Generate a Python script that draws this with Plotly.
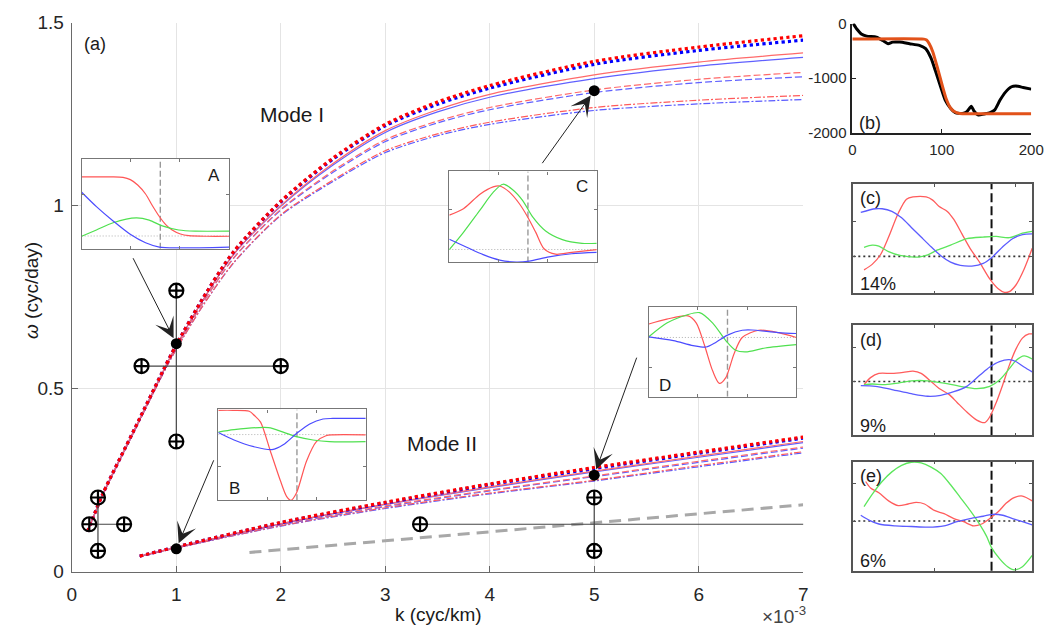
import plotly.graph_objects as go

W, H = 1057, 637
FONT = "Liberation Sans, Arial, Helvetica, sans-serif"

# ---------------- (a) dispersion curves ----------------
k_mode1 = [0.15, 0.3, 0.6, 0.9, 1.0, 1.25, 1.55, 2.0, 2.5, 3.0, 3.5, 4.0, 5.0, 6.0, 7.0]
w1_red_dotted = [0.11, 0.215, 0.390, 0.565, 0.620, 0.745, 0.875, 1.012, 1.130, 1.222, 1.283, 1.328, 1.394, 1.433, 1.464]
w1_blue_dotted = [0.11, 0.215, 0.390, 0.565, 0.620, 0.745, 0.874, 1.010, 1.127, 1.218, 1.277, 1.321, 1.386, 1.424, 1.452]
w1_red_solid = [0.11, 0.214, 0.389, 0.563, 0.617, 0.740, 0.868, 1.000, 1.115, 1.205, 1.262, 1.304, 1.357, 1.392, 1.417]
w1_blue_solid = [0.11, 0.214, 0.389, 0.563, 0.617, 0.740, 0.867, 0.998, 1.111, 1.200, 1.256, 1.296, 1.347, 1.381, 1.405]
w1_red_dashed = [0.11, 0.213, 0.387, 0.560, 0.613, 0.733, 0.858, 0.990, 1.095, 1.180, 1.231, 1.268, 1.316, 1.345, 1.364]
w1_blue_dashed = [0.11, 0.213, 0.387, 0.560, 0.613, 0.733, 0.857, 0.988, 1.091, 1.175, 1.226, 1.262, 1.309, 1.336, 1.352]
w1_red_dashdot = [0.11, 0.212, 0.385, 0.556, 0.608, 0.725, 0.845, 0.975, 1.070, 1.150, 1.196, 1.228, 1.268, 1.288, 1.301]
w1_blue_dashdot = [0.11, 0.212, 0.385, 0.556, 0.608, 0.725, 0.844, 0.973, 1.066, 1.145, 1.191, 1.222, 1.260, 1.278, 1.290]

k_mode2 = [0.65, 1.0, 2.0, 3.0, 4.0, 5.0, 6.0, 7.0]
w2_red_dotted = [0.043, 0.068, 0.135, 0.190, 0.240, 0.285, 0.327, 0.368]
w2_blue_dotted = [0.043, 0.068, 0.134, 0.188, 0.238, 0.282, 0.324, 0.365]
w2_red_solid = [0.043, 0.067, 0.132, 0.185, 0.232, 0.275, 0.316, 0.356]
w2_blue_solid = [0.043, 0.067, 0.131, 0.184, 0.230, 0.273, 0.313, 0.353]
w2_red_dashed = [0.042, 0.066, 0.129, 0.180, 0.223, 0.262, 0.302, 0.341]
w2_blue_dashed = [0.042, 0.066, 0.128, 0.178, 0.221, 0.260, 0.299, 0.338]
w2_red_dashdot = [0.042, 0.065, 0.126, 0.175, 0.215, 0.250, 0.290, 0.328]
w2_blue_dashdot = [0.042, 0.065, 0.125, 0.173, 0.213, 0.248, 0.287, 0.325]

k_ref = [1.7, 7.0]
w_ref = [0.053, 0.183]

cross_k = [1.0, 0.25, 5.0]
cross_w = [0.562, 0.13, 0.13]
cross_k_lo = [0.667, 0.167, 3.333]
cross_k_hi = [2.0, 0.5, 10.0]
cross_w_lo = [0.356, 0.057, 0.057]
cross_w_hi = [0.768, 0.203, 0.203]

dot_k = [1.0, 5.0, 1.0, 5.0]
dot_w = [0.623, 1.314, 0.063, 0.264]
dot_inset = ["A", "C", "B", "D"]

# ---------------- (b) bathymetry ----------------
dist_obs = [1, 5, 10, 16, 27, 34, 40, 45, 53, 64, 75, 82, 88, 93, 99, 104, 110, 115, 123, 128,
            133, 136, 141, 147, 154, 159, 165, 171, 178, 183, 191, 200]
depth_obs = [0, -100, -190, -230, -250, -310, -370, -340, -340, -370, -400, -460, -635, -870, -1170,
             -1405, -1555, -1630, -1645, -1615, -1515, -1600, -1675, -1655, -1630, -1585, -1405,
             -1260, -1157, -1145, -1170, -1200]
dist_fit = [0, 80, 83, 86, 90, 95, 100, 105, 110, 115, 120, 200]
depth_fit = [-285, -285, -300, -370, -520, -800, -1100, -1380, -1550, -1620, -1645, -1650]

# ---------------- (c)-(e) observed modal structures ----------------
c_red_x = [6.6, 11.6, 16.7, 21.7, 27.7, 32.7, 36.7, 44.8, 48.8, 52.8, 57.8, 61.8, 66.8, 71.8, 77.9,
           83.9, 88.9, 92.9, 95.9, 99.9, 105, 110]
c_red_y = [0.215, 0.265, 0.353, 0.515, 0.735, 0.862, 0.882, 0.882, 0.853, 0.794, 0.75, 0.676, 0.544,
           0.412, 0.279, 0.132, 0.044, 0.009, 0.015, 0.074, 0.221, 0.412]
c_green_x = [6.6, 11.6, 15.7, 21.7, 28.7, 39.7, 45.8, 51.8, 59.8, 69.8, 79.9, 87.9, 95.9, 104, 110]
c_green_y = [0.421, 0.441, 0.432, 0.382, 0.347, 0.332, 0.353, 0.397, 0.441, 0.5, 0.515, 0.521, 0.509,
             0.55, 0.568]
c_blue_x = [4.6, 13.6, 17.7, 23.7, 29.7, 35.7, 41.7, 47.8, 53.8, 59.8, 65.8, 72.9, 79.9, 85.9, 91.9,
            97.9, 104, 110]
c_blue_y = [0.741, 0.774, 0.774, 0.75, 0.691, 0.603, 0.515, 0.426, 0.344, 0.285, 0.256, 0.25, 0.274,
            0.338, 0.426, 0.5, 0.538, 0.544]

d_red_x = [6.6, 10.6, 15.7, 23.7, 30.7, 36.7, 41.7, 47.8, 52.8, 58.8, 63.8, 69.8, 75.9, 80.9, 83.9,
           87.9, 91.9, 95.9, 99.9, 104, 108, 110]
d_red_y = [0.461, 0.525, 0.563, 0.563, 0.572, 0.583, 0.563, 0.49, 0.426, 0.373, 0.3, 0.213, 0.14,
           0.117, 0.169, 0.3, 0.461, 0.636, 0.781, 0.883, 0.921, 0.921]
d_green_x = [6.6, 11.6, 19.7, 27.7, 35.7, 45.8, 55.8, 65.8, 75.9, 83.9, 89.9, 95.9, 99.9, 105, 110]
d_green_y = [0.461, 0.467, 0.461, 0.475, 0.496, 0.496, 0.475, 0.446, 0.426, 0.446, 0.504, 0.606,
             0.679, 0.723, 0.694]
d_blue_x = [4.6, 13.6, 23.7, 35.7, 45.8, 53.8, 61.8, 69.8, 77.9, 83.9, 89.9, 95.9, 99.9, 105, 110]
d_blue_y = [0.452, 0.446, 0.417, 0.379, 0.356, 0.364, 0.397, 0.446, 0.548, 0.621, 0.671, 0.688,
            0.671, 0.621, 0.577]

e_red_x = [7.6, 10.6, 15.7, 21.7, 27.7, 33.7, 38.7, 43.8, 49.8, 55.8, 61.8, 67.8, 73.9, 78.9, 83.9,
           88.9, 93.9, 98.9, 104, 110]
e_red_y = [0.818, 0.759, 0.715, 0.641, 0.597, 0.612, 0.626, 0.612, 0.553, 0.524, 0.479, 0.45, 0.412,
           0.429, 0.479, 0.538, 0.618, 0.671, 0.685, 0.641]
e_green_x = [6.6, 11.6, 17.7, 23.7, 29.7, 35.7, 41.7, 47.8, 53.8, 59.8, 65.8, 71.8, 77.9, 81.9, 84.9,
             89.9, 94.9, 98.9, 104, 110]
e_green_y = [0.588, 0.7, 0.818, 0.906, 0.965, 0.994, 0.988, 0.95, 0.891, 0.788, 0.671, 0.553, 0.421,
             0.318, 0.215, 0.112, 0.038, 0.009, 0.038, 0.141]
e_blue_x = [4.6, 9.6, 15.7, 25.7, 35.7, 45.8, 55.8, 63.8, 71.8, 79.9, 85.9, 91.9, 97.9, 104, 110]
e_blue_y = [0.509, 0.465, 0.429, 0.412, 0.406, 0.4, 0.412, 0.45, 0.479, 0.5, 0.518, 0.509, 0.479,
            0.45, 0.421]

panel_zero = {"c": 0.338, "d": 0.49, "e": 0.456}
panel_pct = {"c": "14%", "d": "9%", "e": "6%"}
panel_break_km = 85

# ---------------- insets A-D: model modal structures ----------------
A_red_x = [0, 15, 30, 42, 49.5, 57, 65, 72, 79, 85.5, 92, 100.5, 109, 127.5, 150]
A_red_y = [0.80, 0.80, 0.80, 0.795, 0.77, 0.71, 0.61, 0.48, 0.36, 0.27, 0.21, 0.165, 0.147, 0.14, 0.14]
A_green_x = [0, 15, 32, 55.5, 68.7, 82, 98.7, 115.5, 150]
A_green_y = [0.14, 0.21, 0.29, 0.344, 0.32, 0.255, 0.21, 0.197, 0.197]
A_blue_x = [0, 15, 32, 49, 65, 79, 97.5, 150]
A_blue_y = [0.63, 0.47, 0.31, 0.165, 0.068, 0.02, 0.01, 0.02]

B_red_x = [0, 15, 31.5, 37, 43, 53, 63, 69.6, 74, 79.5, 89.7, 99.8, 109.5, 116.5, 150]
B_red_y = [0.99, 0.99, 0.98, 0.93, 0.86, 0.54, 0.22, 0.04, 0.0, 0.08, 0.43, 0.645, 0.71, 0.72, 0.72]
B_green_x = [0, 16, 51, 66, 79.5, 96.4, 113, 150]
B_green_y = [0.75, 0.777, 0.80, 0.75, 0.70, 0.663, 0.645, 0.645]
B_blue_x = [0, 16, 36, 54.6, 66, 79.5, 93, 106.5, 116.5, 150]
B_blue_y = [0.745, 0.663, 0.59, 0.557, 0.61, 0.734, 0.84, 0.894, 0.90, 0.90]

C_red_x = [0, 14.4, 31.2, 44.6, 51.3, 61.5, 71.3, 79.7, 88, 96.4, 108, 124.5, 150]
C_red_y = [0.52, 0.59, 0.75, 0.83, 0.84, 0.77, 0.645, 0.50, 0.33, 0.15, 0.09, 0.11, 0.14]
C_green_x = [0, 14.4, 31.2, 44.6, 54.6, 64.5, 74.7, 84.8, 98, 115, 135, 150]
C_green_y = [0.14, 0.33, 0.575, 0.77, 0.86, 0.80, 0.68, 0.50, 0.345, 0.25, 0.21, 0.21]
C_blue_x = [0, 17.7, 34.5, 51.3, 68, 81.3, 101.4, 124.5, 150]
C_blue_y = [0.255, 0.167, 0.085, 0.025, 0.004, 0.014, 0.06, 0.095, 0.11]

D_red_x = [0, 18.3, 40, 48.3, 56.7, 65, 71.7, 78.3, 86.7, 95, 111.6, 131.7, 150]
D_red_y = [0.81, 0.864, 0.90, 0.82, 0.57, 0.286, 0.15, 0.214, 0.48, 0.66, 0.74, 0.714, 0.66]
D_green_x = [0, 18.3, 38.4, 51.6, 65, 78.3, 88.3, 98.4, 118.4, 150]
D_green_y = [0.667, 0.82, 0.91, 0.936, 0.82, 0.625, 0.518, 0.50, 0.543, 0.58]
D_blue_x = [0, 25, 45, 58.3, 68.4, 80, 95, 105, 131.7, 150]
D_blue_y = [0.667, 0.625, 0.57, 0.554, 0.607, 0.686, 0.74, 0.743, 0.714, 0.704]

inset_zero = {"A": 0.143, "B": 0.723, "C": 0.142, "D": 0.66}
inset_ytick = {"A": 0.6, "B": 0.37, "C": 0.58, "D": 0.33}
inset_break_km = 80

# ================= layout helpers =================
def dom_x(p0, p1):
    return [p0 / W, p1 / W]


def dom_y(p0, p1):
    return [1 - p1 / H, 1 - p0 / H]


fig = go.Figure()

# ---- main panel traces (xaxis / yaxis) ----
def mode_line(k, w, color, width, dash):
    fig.add_trace(go.Scatter(x=k, y=w, mode="lines", xaxis="x", yaxis="y",
                             line=dict(color=color, width=width, dash=dash, shape="spline", smoothing=0.8),
                             showlegend=False, hoverinfo="skip"))

mode_line(k_ref, w_ref, "#a8a8a8", 3, "12px,7px")
for k, wb, wr in [(k_mode1, w1_blue_dashdot, w1_red_dashdot), (k_mode2, w2_blue_dashdot, w2_red_dashdot)]:
    mode_line(k, wb, "#5a5aff", 1.2, "7px,2px,2px,2px")
    mode_line(k, wr, "#ff5a5a", 1.2, "7px,2px,2px,2px")
for k, wb, wr in [(k_mode1, w1_blue_dashed, w1_red_dashed), (k_mode2, w2_blue_dashed, w2_red_dashed)]:
    mode_line(k, wb, "#6060ff", 1.2, "7px,3px")
    mode_line(k, wr, "#ff6a6a", 1.2, "7px,3px")
for k, wb, wr in [(k_mode1, w1_blue_solid, w1_red_solid), (k_mode2, w2_blue_solid, w2_red_solid)]:
    mode_line(k, wb, "#6060ff", 1.2, "solid")
    mode_line(k, wr, "#ff6a6a", 1.2, "solid")
for k, wb, wr in [(k_mode1, w1_blue_dotted, w1_red_dotted), (k_mode2, w2_blue_dotted, w2_red_dotted)]:
    mode_line(k, wb, "#0000ff", 3.2, "dot")
    mode_line(k, wr, "#ff0000", 3.2, "dot")

# error crosses
for i in range(len(cross_k)):
    fig.add_trace(go.Scatter(x=[cross_k_lo[i], cross_k_hi[i], None, cross_k[i], cross_k[i]],
                             y=[cross_w[i], cross_w[i], None, cross_w_lo[i], cross_w_hi[i]],
                             mode="lines", line=dict(color="#444444", width=1.2),
                             xaxis="x", yaxis="y", showlegend=False, hoverinfo="skip"))
    fig.add_trace(go.Scatter(x=[cross_k_lo[i], cross_k_hi[i], cross_k[i], cross_k[i]],
                             y=[cross_w[i], cross_w[i], cross_w_lo[i], cross_w_hi[i]],
                             mode="markers",
                             marker=dict(symbol="circle-cross-open", size=14, color="black",
                                         line=dict(color="black", width=2.2)),
                             xaxis="x", yaxis="y", showlegend=False, hoverinfo="skip"))

fig.add_trace(go.Scatter(x=dot_k, y=dot_w, mode="markers", marker=dict(size=11, color="black"),
                         xaxis="x", yaxis="y", showlegend=False, hoverinfo="skip"))

# ---- panel (b) ----
fig.add_trace(go.Scatter(x=dist_obs, y=depth_obs, mode="lines", xaxis="x2", yaxis="y2",
                         line=dict(color="black", width=3, shape="spline", smoothing=0.6),
                         cliponaxis=False, showlegend=False, hoverinfo="skip"))
fig.add_trace(go.Scatter(x=dist_fit, y=depth_fit, mode="lines", xaxis="x2", yaxis="y2",
                         line=dict(color="#e2521a", width=3, shape="spline", smoothing=0.5),
                         cliponaxis=False, showlegend=False, hoverinfo="skip"))

# ---- panels (c)-(e) ----
panel_data = {
    "c": (3, [(c_red_x, c_red_y, "#ff5c5c"), (c_green_x, c_green_y, "#5ce65c"), (c_blue_x, c_blue_y, "#5c5cff")]),
    "d": (4, [(d_red_x, d_red_y, "#ff5c5c"), (d_green_x, d_green_y, "#5ce65c"), (d_blue_x, d_blue_y, "#5c5cff")]),
    "e": (5, [(e_red_x, e_red_y, "#ff5c5c"), (e_green_x, e_green_y, "#5ce65c"), (e_blue_x, e_blue_y, "#5c5cff")]),
}
for name, (n, curves) in panel_data.items():
    xa, ya = "x%d" % n, "y%d" % n
    fig.add_trace(go.Scatter(x=[0, 110], y=[panel_zero[name]] * 2, mode="lines", xaxis=xa, yaxis=ya,
                             line=dict(color="#333333", width=1.6, dash="2px,3px"),
                             showlegend=False, hoverinfo="skip"))
    fig.add_trace(go.Scatter(x=[panel_break_km] * 2, y=[0, 1], mode="lines", xaxis=xa, yaxis=ya,
                             line=dict(color="#111111", width=2, dash="9px,4px"),
                             showlegend=False, hoverinfo="skip"))
    for cx, cy, col in curves:
        fig.add_trace(go.Scatter(x=cx, y=cy, mode="lines", xaxis=xa, yaxis=ya,
                                 line=dict(color=col, width=1.3, shape="spline", smoothing=0.8),
                                 showlegend=False, hoverinfo="skip"))

# ---- insets A-D ----
inset_data = {
    "A": (6, [(A_red_x, A_red_y, "#ff5555"), (A_green_x, A_green_y, "#4fe04f"), (A_blue_x, A_blue_y, "#4b4bff")]),
    "B": (7, [(B_red_x, B_red_y, "#ff5555"), (B_green_x, B_green_y, "#4fe04f"), (B_blue_x, B_blue_y, "#4b4bff")]),
    "C": (8, [(C_red_x, C_red_y, "#ff5555"), (C_green_x, C_green_y, "#4fe04f"), (C_blue_x, C_blue_y, "#4b4bff")]),
    "D": (9, [(D_red_x, D_red_y, "#ff5555"), (D_green_x, D_green_y, "#4fe04f"), (D_blue_x, D_blue_y, "#4b4bff")]),
}
for name, (n, curves) in inset_data.items():
    xa, ya = "x%d" % n, "y%d" % n
    fig.add_trace(go.Scatter(x=[0, 150], y=[inset_zero[name]] * 2, mode="lines", xaxis=xa, yaxis=ya,
                             line=dict(color="#b0b0b0", width=1, dash="1px,2px"),
                             showlegend=False, hoverinfo="skip"))
    fig.add_trace(go.Scatter(x=[inset_break_km] * 2, y=[0, 1], mode="lines", xaxis=xa, yaxis=ya,
                             line=dict(color="#999999", width=1.4, dash="6px,3px"),
                             showlegend=False, hoverinfo="skip"))
    for cx, cy, col in curves:
        fig.add_trace(go.Scatter(x=cx, y=cy, mode="lines", xaxis=xa, yaxis=ya,
                                 line=dict(color=col, width=1.2, shape="spline", smoothing=0.8),
                                 showlegend=False, hoverinfo="skip"))

# ================= axes =================
tickfont_main = dict(family=FONT, size=19, color="#262626")
layout_axes = {}
layout_axes["xaxis"] = dict(domain=dom_x(68, 812), range=[0, 7], tickvals=list(range(8)),
                            ticks="inside", ticklen=6, tickcolor="#666666", showgrid=True,
                            gridcolor="#e4e4e4", gridwidth=1, showline=True, linecolor="#6a6a6a",
                            linewidth=1.2, zeroline=False, tickfont=tickfont_main, anchor="y",
                            ticklabelstandoff=5)
layout_axes["yaxis"] = dict(domain=dom_y(13, 581), range=[0, 1.5], tickvals=[0, 0.5, 1, 1.5],
                            ticktext=["0", "0.5", "1", "1.5"], ticks="inside", ticklen=6,
                            tickcolor="#666666", showgrid=True, gridcolor="#e4e4e4", gridwidth=1,
                            showline=True, linecolor="#6a6a6a", linewidth=1.2, zeroline=False,
                            tickfont=tickfont_main, anchor="x", ticklabelstandoff=3)
tickfont_b = dict(family=FONT, size=15, color="#262626")
layout_axes["xaxis2"] = dict(domain=dom_x(862, 1044), range=[0, 200], tickvals=[0, 100, 200],
                             ticks="inside", ticklen=4, tickcolor="#222", showgrid=False,
                             showline=True, linecolor="#222222", linewidth=1.5, zeroline=False,
                             tickfont=tickfont_b, anchor="y2", ticklabelstandoff=2)
layout_axes["yaxis2"] = dict(domain=dom_y(14, 127), range=[-2000, 0], tickvals=[-2000, -1000, 0],
                             ticktext=["-2000", "-1000", "0"], ticks="inside", ticklen=4,
                             tickcolor="#222", showgrid=False, showline=True, linecolor="#222222",
                             linewidth=1.5, zeroline=False, tickfont=tickfont_b, anchor="x2",
                             ticklabelstandoff=1)

panel_pix = {"c": (180, 293), "d": (326, 440), "e": (467, 580)}
panel_ytick = {"c": [0.338, 0.66], "d": [0.49, 0.8], "e": [0.456, 0.8]}
for name, (n, _) in panel_data.items():
    y0, y1 = panel_pix[name]
    layout_axes["xaxis%d" % n] = dict(domain=dom_x(863, 1045), range=[0, 110], tickvals=[50, 100],
                                      ticks="inside", ticklen=3, tickcolor="#555", showticklabels=False,
                                      showgrid=False, zeroline=False, showline=True, mirror="ticks",
                                      linecolor="#555555", linewidth=1.5, anchor="y%d" % n)
    layout_axes["yaxis%d" % n] = dict(domain=dom_y(y0, y1), range=[0, 1], tickvals=panel_ytick[name],
                                      ticks="inside", ticklen=3, tickcolor="#555", showticklabels=False,
                                      showgrid=False, zeroline=False, showline=True, mirror="ticks",
                                      linecolor="#555555", linewidth=1.5, anchor="x%d" % n)

inset_pix = {"A": (78, 228, 154, 247), "B": (217, 367, 413, 507),
             "C": (452, 602, 167, 261), "D": (655, 805, 307, 400)}
for name, (n, _) in inset_data.items():
    x0, x1, y0, y1 = inset_pix[name]
    layout_axes["xaxis%d" % n] = dict(domain=dom_x(x0, x1), range=[0, 150], tickvals=[50, 100],
                                      ticks="inside", ticklen=3, tickcolor="#777", showticklabels=False,
                                      showgrid=False, zeroline=False, showline=True, mirror="ticks",
                                      linecolor="#777777", linewidth=1.3, anchor="y%d" % n)
    layout_axes["yaxis%d" % n] = dict(domain=dom_y(y0, y1), range=[0, 1], tickvals=[inset_ytick[name]],
                                      ticks="inside", ticklen=3, tickcolor="#777", showticklabels=False,
                                      showgrid=False, zeroline=False, showline=True, mirror="ticks",
                                      linecolor="#777777", linewidth=1.3, anchor="x%d" % n)

# ================= annotations =================
ann = []
txt = dict(family=FONT, color="#1a1a1a")
ann.append(dict(text="k (cyc/km)", x=441 / W, y=1 - 625 / H, xref="paper", yref="paper",
                xanchor="center", yanchor="middle", showarrow=False, font=dict(size=19, **txt)))
ann.append(dict(text="<i>ω</i> (cyc/day)", x=27 / W, y=1 - 290 / H, xref="paper", yref="paper",
                xanchor="center", yanchor="middle", textangle=-90, showarrow=False,
                font=dict(size=19, **txt)))
ann.append(dict(text="×10<sup>-3</sup>", x=817 / W, y=1 - 626 / H, xref="paper", yref="paper",
                xanchor="right", yanchor="middle", showarrow=False,
                font=dict(size=19, family=FONT, color="#444")))
ann.append(dict(text="(a)", x=0.10, y=1.442, xref="x", yref="y", xanchor="left", yanchor="middle",
                showarrow=False, font=dict(size=18, **txt)))
ann.append(dict(text="Mode I", x=2.11, y=1.249, xref="x", yref="y", showarrow=False,
                font=dict(size=21, **txt)))
ann.append(dict(text="Mode II", x=3.54, y=0.351, xref="x", yref="y", showarrow=False,
                font=dict(size=21, **txt)))
ann.append(dict(text="(b)", x=5, y=-1823, xref="x2", yref="y2", xanchor="left", yanchor="middle",
                showarrow=False, font=dict(size=18, **txt)))
for name, (n, _) in panel_data.items():
    ann.append(dict(text="(%s)" % name, x=3, y=0.87, xref="x%d" % n, yref="y%d" % n, xanchor="left",
                    yanchor="middle", showarrow=False, font=dict(size=18, **txt)))
    ann.append(dict(text=panel_pct[name], x=3, y=0.09, xref="x%d" % n, yref="y%d" % n, xanchor="left",
                    yanchor="middle", showarrow=False, font=dict(size=18, **txt)))
inset_label_pos = {"A": (135, 0.82), "B": (16, 0.13), "C": (135, 0.83), "D": (16, 0.13)}
for name, (n, _) in inset_data.items():
    lx, ly = inset_label_pos[name]
    ann.append(dict(text=name, x=lx, y=ly, xref="x%d" % n, yref="y%d" % n, showarrow=False,
                    font=dict(size=17, **txt)))

# arrows from the insets to the marked points (tail offsets in pixels)
arrow_tail = {"A": (-44, -87), "C": (-53, 74), "B": (38, -90), "D": (43, -119)}
for k, w, name in zip(dot_k, dot_w, dot_inset):
    axp, ayp = arrow_tail[name]
    ann.append(dict(text="", x=k, y=w, xref="x", yref="y", ax=axp, ay=ayp, showarrow=True,
                    arrowhead=3, arrowsize=3.4, arrowwidth=1, arrowcolor="#222222", standoff=6))

fig.update_layout(width=W, height=H, margin=dict(l=0, r=0, t=0, b=0),
                  paper_bgcolor="white", plot_bgcolor="white", showlegend=False,
                  font=dict(family=FONT), annotations=ann, **layout_axes)

fig.write_html("out.html")
